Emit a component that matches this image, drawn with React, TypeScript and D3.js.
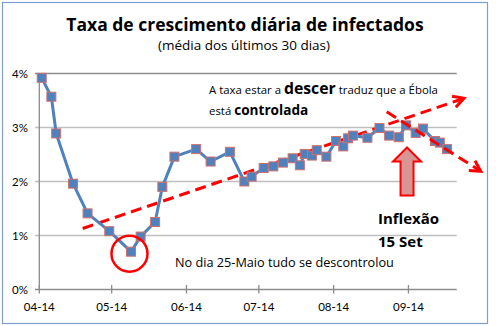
import React from "react";
import * as d3 from "d3";

const dates = [
  "2014-04-02", "2014-04-06", "2014-04-08", "2014-04-15", "2014-04-21", "2014-04-30",
  "2014-05-09", "2014-05-13", "2014-05-19", "2014-05-22", "2014-05-27", "2014-06-05",
  "2014-06-11", "2014-06-19", "2014-06-25", "2014-06-28", "2014-07-03", "2014-07-07",
  "2014-07-11", "2014-07-15", "2014-07-18", "2014-07-20", "2014-07-23", "2014-07-25",
  "2014-07-29", "2014-08-02", "2014-08-05", "2014-08-07", "2014-08-09", "2014-08-15",
  "2014-08-20", "2014-08-24", "2014-08-28", "2014-08-31", "2014-09-04", "2014-09-07",
  "2014-09-12", "2014-09-14", "2014-09-17",
];
const values = [
  3.92, 3.57, 2.89, 1.96, 1.41, 1.08,
  0.70, 0.98, 1.25, 1.90, 2.46, 2.60,
  2.37, 2.55, 2.00, 2.09, 2.25, 2.28,
  2.35, 2.43, 2.30, 2.51, 2.48, 2.58,
  2.46, 2.75, 2.65, 2.80, 2.85, 2.81,
  2.99, 2.85, 2.82, 3.04, 2.90, 2.98,
  2.75, 2.72, 2.60,
];
const yTicks = [0, 1, 2, 3, 4];
const title = "Taxa de crescimento diária de infectados";
const subtitle = "(média dos últimos 30 dias)";

// trend annotations (date, value)
const trendUp = [["2014-04-19", 1.13], ["2014-09-24", 3.54]] as const;
const trendDown = [["2014-08-23", 3.29], ["2014-10-01", 2.19]] as const;

const FONT = "'Open Sans', Lato, sans-serif";
const TICKFONT = "Lato, 'Open Sans', sans-serif";

export default function App() {
  const W = 496, H = 326;
  const parse = (s: string) => new Date(s + "T00:00:00Z");
  const x = d3.scaleUtc()
    .domain([parse("2014-04-01"), parse("2014-09-21")])
    .range([39.3, 456.7]);
  const y = d3.scaleLinear().domain([0, 4]).range([289.5, 73.5]);
  const months = d3.utcMonth.range(parse("2014-04-01"), parse("2014-09-02"));
  const fmt = d3.utcFormat("%m-%y");
  const pts = dates.map((d, i) => [x(parse(d)), y(values[i])] as [number, number]);
  const line = d3.line<[number, number]>()(pts) || "";
  const minIdx = values.indexOf(d3.min(values) as number);
  const [cx, cy] = pts[minIdx];

  const arrowLine = (seg: readonly (readonly [string, number])[]) => {
    const x1 = x(parse(seg[0][0])), y1 = y(seg[0][1]);
    const x2 = x(parse(seg[1][0])), y2 = y(seg[1][1]);
    const ang = Math.atan2(y2 - y1, x2 - x1);
    const L = 12, a = 0.5;
    const h1 = [x2 - L * Math.cos(ang - a), y2 - L * Math.sin(ang - a)];
    const h2 = [x2 - L * Math.cos(ang + a), y2 - L * Math.sin(ang + a)];
    return (
      <g stroke="#ff0000" strokeWidth={3} fill="none">
        <line x1={x1} y1={y1} x2={x2 - 2 * Math.cos(ang)} y2={y2 - 2 * Math.sin(ang)} strokeDasharray="11 6" />
        <polyline points={`${h1[0]},${h1[1]} ${x2},${y2} ${h2[0]},${h2[1]}`} strokeLinejoin="miter" />
      </g>
    );
  };

  // block arrow pointing up at inflexion
  const ax = x(parse("2014-08-31")) + 1, at = 147.5;
  const arrowPath = `M${ax},${at} L${ax + 14},${at + 14} L${ax + 6.5},${at + 14} L${ax + 6.5},${at + 48} L${ax - 6.5},${at + 48} L${ax - 6.5},${at + 14} L${ax - 14},${at + 14} Z`;

  return (
    <svg width={W} height={H} style={{ position: "absolute", left: 0, top: 0 }} fontFamily={FONT}>
      <rect x={0} y={0} width={W} height={H} fill="#fff" />
      <rect x={2.5} y={2.5} width={485} height={321} fill="#fff" stroke="#7f9ed1" strokeWidth={1.2} />
      <text x={245} y={30.5} textAnchor="middle" fontSize={17.5} fontWeight="bold" fill="#000">{title}</text>
      <text x={244} y={50} textAnchor="middle" fontSize={13.5} fill="#000">{subtitle}</text>

      {yTicks.map((t) => (
        <g key={t}>
          {t > 0 && (
            <line x1={35} x2={456.7} y1={y(t)} y2={y(t)} stroke={t === 4 ? "#8c8c8c" : "#bfbfbf"} strokeWidth={1.5} />
          )}
          <text x={28} y={y(t)} dy="0.35em" textAnchor="end" fontSize={11.5} fontFamily={TICKFONT} fill="#000">{t}%</text>
        </g>
      ))}
      <line x1={39.3} x2={39.3} y1={73.5} y2={289.5} stroke="#8c8c8c" strokeWidth={1.3} />
      <line x1={35} x2={456.7} y1={289.5} y2={289.5} stroke="#8c8c8c" strokeWidth={1.3} />
      {months.map((m) => (
        <g key={+m}>
          <line x1={x(m)} x2={x(m)} y1={285} y2={293.5} stroke="#8c8c8c" strokeWidth={1.3} />
          <text x={x(m)} y={307} dy="0.35em" textAnchor="middle" fontSize={11.5} fontFamily={TICKFONT} fill="#000">{fmt(m)}</text>
        </g>
      ))}

      {arrowLine(trendUp)}

      <path d={line} fill="none" stroke="#4f81bd" strokeWidth={3} strokeLinejoin="round" />
      {pts.map(([px, py], i) => (
        <rect key={i} x={px - 4.5} y={py - 4.5} width={9} height={9} fill="#4f81bd" stroke="#d0706e" strokeWidth={1} />
      ))}

      {arrowLine(trendDown)}

      <circle cx={cx - 1.5} cy={cy + 2} r={18} fill="none" stroke="#ff0000" strokeWidth={2.5} />
      <path d={arrowPath} fill="#d99594" stroke="#ff0000" strokeWidth={2} />

      <text x={209} y={93.5} fontSize={11.4} fill="#000">
        A taxa estar a <tspan fontWeight="bold" fontSize={15.8}>descer</tspan> traduz que a Ébola
      </text>
      <text x={209} y={115} fontSize={11.4} fill="#000">
        está <tspan fontWeight="bold" fontSize={13.6}>controlada</tspan>
      </text>
      <text x={175} y={267} fontSize={12.7} fill="#000">No dia 25-Maio tudo se descontrolou</text>
      <text x={378} y={223.5} fontSize={15} fontWeight="bold" fill="#000">Inflexão</text>
      <text x={378} y={247} fontSize={15} fontWeight="bold" fill="#000">15 Set</text>
    </svg>
  );
}
